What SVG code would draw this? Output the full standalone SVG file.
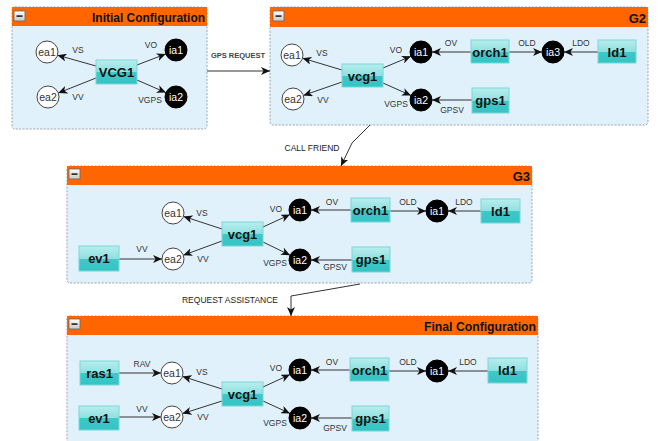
<svg xmlns="http://www.w3.org/2000/svg" width="668" height="441" viewBox="0 0 668 441">
<defs>
<linearGradient id="nodeGrad" x1="0" y1="0" x2="0" y2="1">
<stop offset="0" stop-color="#b8eeee"/>
<stop offset="0.5" stop-color="#8fe0e0"/>
<stop offset="0.52" stop-color="#3ec9c9"/>
<stop offset="1" stop-color="#36c3c3"/>
</linearGradient>
<linearGradient id="btnGrad" x1="0" y1="0" x2="0" y2="1">
<stop offset="0" stop-color="#ffffff"/>
<stop offset="1" stop-color="#c8c8c8"/>
</linearGradient>
<marker id="arr" viewBox="0 0 9 8" refX="9" refY="4" markerWidth="9" markerHeight="8" markerUnits="userSpaceOnUse" orient="auto">
<path d="M0,0 L9,4 L0,8 L2.5,4 z" fill="#111"/>
</marker>
</defs>
<style>
.panel{fill:#e1f1fc;stroke:#9aa3ad;stroke-width:1;stroke-dasharray:2,1.5}
.hdr{fill:#ff6600}
.title{font-family:"Liberation Sans",Arial,sans-serif;font-weight:bold;font-size:13px;fill:#111;text-anchor:end}
.btn{fill:url(#btnGrad);stroke:#666;stroke-width:0.8}
.node rect{fill:url(#nodeGrad);stroke:#7dd6d6;stroke-width:1}
.node text{font-family:"Liberation Sans",Arial,sans-serif;font-weight:bold;font-size:13px;fill:#111;text-anchor:middle}
.ea circle{fill:#fff;stroke:#444;stroke-width:1}
.ea text{font-family:"Liberation Sans",Arial,sans-serif;font-size:10.5px;fill:#333;text-anchor:middle}
.ia circle{fill:#000;stroke:#000}
.ia text{font-family:"Liberation Sans",Arial,sans-serif;font-size:10.5px;fill:#fff;text-anchor:middle}
.e{stroke:#333;stroke-width:1;fill:none;marker-end:url(#arr)}
.lbl{font-family:"Liberation Sans",Arial,sans-serif;font-size:8.5px;fill:#333;text-anchor:middle}
.big{font-size:8.5px;fill:#222}
</style>

<!-- Panels -->
<g id="panel1">
<rect class="panel" x="12" y="7" width="195" height="122" rx="3"/>
<rect class="hdr" x="12" y="7" width="195" height="19"/>
<rect class="btn" x="14" y="11" width="11" height="10"/>
<rect x="16.5" y="15.3" width="6" height="1.6" fill="#222"/>
<text class="title" x="205" y="22" textLength="113" lengthAdjust="spacingAndGlyphs">Initial Configuration</text>
</g>
<g id="panel2">
<rect class="panel" x="270" y="7" width="378" height="118" rx="3"/>
<rect class="hdr" x="270" y="7" width="378" height="20"/>
<rect class="btn" x="273" y="11" width="11" height="10"/>
<rect x="275.5" y="15.3" width="6" height="1.6" fill="#222"/>
<text class="title" x="646" y="23">G2</text>
</g>
<g id="panel3">
<rect class="panel" x="67" y="166" width="465" height="117" rx="3"/>
<rect class="hdr" x="67" y="166" width="465" height="19"/>
<rect class="btn" x="69" y="169" width="11" height="10"/>
<rect x="71.5" y="173.3" width="6" height="1.6" fill="#222"/>
<text class="title" x="530" y="181">G3</text>
</g>
<g id="panel4">
<rect class="panel" x="67" y="316" width="471" height="135" rx="3"/>
<rect class="hdr" x="67" y="316" width="471" height="19"/>
<rect class="btn" x="69" y="319" width="11" height="10"/>
<rect x="71.5" y="323.3" width="6" height="1.6" fill="#222"/>
<text class="title" x="536" y="331" textLength="112" lengthAdjust="spacingAndGlyphs">Final Configuration</text>
</g>

<!-- Connectors -->
<g id="connectors">
<!-- between panels -->
<path class="e" d="M207,71 L270,71"/>
<text class="lbl" x="238" y="58" style="font-size:7.5px;font-weight:bold;fill:#444">GPS REQUEST</text>
<path class="e" d="M370,125 L352,143 L341,166"/>
<text class="lbl big" x="312" y="151">CALL FRIEND</text>
<path class="e" d="M360,284 L291,296 L291,316"/>
<text class="lbl big" x="230" y="303">REQUEST ASSISTANCE</text>

<!-- panel 1 -->
<path class="e" d="M96,66 L57.5,55.2"/>
<path class="e" d="M96,78 L58.2,93"/>
<path class="e" d="M137,65 L165.7,54"/>
<path class="e" d="M137,80 L165.9,92.6"/>
<text class="lbl" x="78" y="53">VS</text>
<text class="lbl" x="78" y="100">VV</text>
<text class="lbl" x="151" y="48">VO</text>
<text class="lbl" x="150" y="103">VGPS</text>

<!-- panel 2 -->
<path class="e" d="M342,70 L302.5,58.2"/>
<path class="e" d="M342,82 L303.4,95.4"/>
<path class="e" d="M383,68 L410.9,56.3"/>
<path class="e" d="M383,83 L411,95.5"/>
<path class="e" d="M471,52 L432,52"/>
<path class="e" d="M509,52 L542,52"/>
<path class="e" d="M598,52 L564,52"/>
<path class="e" d="M472,100 L432,100"/>
<text class="lbl" x="322" y="56">VS</text>
<text class="lbl" x="323" y="103">VV</text>
<text class="lbl" x="396" y="53">VO</text>
<text class="lbl" x="396" y="107">VGPS</text>
<text class="lbl" x="451" y="46">OV</text>
<text class="lbl" x="452" y="113">GPSV</text>
<text class="lbl" x="527" y="46">OLD</text>
<text class="lbl" x="581" y="46">LDO</text>

<!-- panel 3 -->
<path class="e" d="M222,229 L183.5,216.4"/>
<path class="e" d="M222,241 L183.3,255.2"/>
<path class="e" d="M119,259 L162,259"/>
<path class="e" d="M263,227 L290,214.6"/>
<path class="e" d="M263,242 L290.1,255.2"/>
<path class="e" d="M351,210 L311,210"/>
<path class="e" d="M390,211 L426,211"/>
<path class="e" d="M481,211 L448,211"/>
<path class="e" d="M352,260 L311,260"/>
<text class="lbl" x="202" y="216">VS</text>
<text class="lbl" x="203" y="262">VV</text>
<text class="lbl" x="142" y="252">VV</text>
<text class="lbl" x="276" y="212">VO</text>
<text class="lbl" x="275" y="266">VGPS</text>
<text class="lbl" x="332" y="205">OV</text>
<text class="lbl" x="335" y="270">GPSV</text>
<text class="lbl" x="408" y="205">OLD</text>
<text class="lbl" x="464" y="205">LDO</text>

<!-- panel 4 -->
<path class="e" d="M119,373 L161,373"/>
<path class="e" d="M119,417 L161,417"/>
<path class="e" d="M222,389 L182.5,376.4"/>
<path class="e" d="M222,401 L182.5,413.6"/>
<path class="e" d="M263,387 L290,374.6"/>
<path class="e" d="M263,401 L290,413.4"/>
<path class="e" d="M350,370 L311,370"/>
<path class="e" d="M389,371 L426,371"/>
<path class="e" d="M488,371 L448,371"/>
<path class="e" d="M352,418 L311,418"/>
<text class="lbl" x="142" y="367">RAV</text>
<text class="lbl" x="202" y="375">VS</text>
<text class="lbl" x="142" y="412">VV</text>
<text class="lbl" x="203" y="420">VV</text>
<text class="lbl" x="276" y="371">VO</text>
<text class="lbl" x="275" y="426">VGPS</text>
<text class="lbl" x="332" y="365">OV</text>
<text class="lbl" x="335" y="431">GPSV</text>
<text class="lbl" x="408" y="365">OLD</text>
<text class="lbl" x="468" y="365">LDO</text>
</g>

<!-- Panel 1 nodes -->
<g id="p1-VCG1" class="node"><rect x="96" y="60" width="41" height="24"/><text x="116.5" y="77">VCG1</text></g>
<g id="p1-ea1" class="ea"><circle cx="47" cy="52" r="11"/><text x="47" y="55.5">ea1</text></g>
<g id="p1-ea2" class="ea"><circle cx="48" cy="97" r="11"/><text x="48" y="100.5">ea2</text></g>
<g id="p1-ia1" class="ia"><circle cx="176" cy="50" r="11"/><text x="176" y="53.5">ia1</text></g>
<g id="p1-ia2" class="ia"><circle cx="176" cy="97" r="11"/><text x="176" y="100.5">ia2</text></g>

<!-- Panel 2 nodes -->
<g id="p2-vcg1" class="node"><rect x="342" y="64" width="41" height="23"/><text x="362.5" y="80.5">vcg1</text></g>
<g id="p2-ea1" class="ea"><circle cx="292" cy="55" r="11"/><text x="292" y="58.5">ea1</text></g>
<g id="p2-ea2" class="ea"><circle cx="293" cy="99" r="11"/><text x="293" y="102.5">ea2</text></g>
<g id="p2-ia1" class="ia"><circle cx="421" cy="52" r="11"/><text x="421" y="55.5">ia1</text></g>
<g id="p2-ia2" class="ia"><circle cx="421" cy="100" r="11"/><text x="421" y="103.5">ia2</text></g>
<g id="p2-orch1" class="node"><rect x="471" y="40" width="38" height="23"/><text x="490" y="56.5">orch1</text></g>
<g id="p2-ia3" class="ia"><circle cx="553" cy="52" r="11"/><text x="553" y="55.5">ia3</text></g>
<g id="p2-ld1" class="node"><rect x="598" y="40" width="38" height="23"/><text x="617" y="56.5">ld1</text></g>
<g id="p2-gps1" class="node"><rect x="472" y="88" width="37" height="25"/><text x="490.5" y="105">gps1</text></g>

<!-- Panel 3 nodes -->
<g id="p3-vcg1" class="node"><rect x="222" y="222" width="41" height="24"/><text x="242.5" y="239">vcg1</text></g>
<g id="p3-ea1" class="ea"><circle cx="173" cy="213" r="11"/><text x="173" y="216.5">ea1</text></g>
<g id="p3-ea2" class="ea"><circle cx="173" cy="259" r="11"/><text x="173" y="262.5">ea2</text></g>
<g id="p3-ev1" class="node"><rect x="79" y="246" width="40" height="25"/><text x="99" y="263">ev1</text></g>
<g id="p3-ia1" class="ia"><circle cx="300" cy="210" r="11"/><text x="300" y="213.5">ia1</text></g>
<g id="p3-ia2" class="ia"><circle cx="300" cy="260" r="11"/><text x="300" y="263.5">ia2</text></g>
<g id="p3-orch1" class="node"><rect x="351" y="198" width="39" height="24"/><text x="370.5" y="215">orch1</text></g>
<g id="p3-ia1b" class="ia"><circle cx="437" cy="211" r="11"/><text x="437" y="214.5">ia1</text></g>
<g id="p3-ld1" class="node"><rect x="481" y="199" width="39" height="24"/><text x="500.5" y="216">ld1</text></g>
<g id="p3-gps1" class="node"><rect x="352" y="247" width="38" height="25"/><text x="371" y="264">gps1</text></g>

<!-- Panel 4 nodes -->
<g id="p4-ras1" class="node"><rect x="80" y="361" width="39" height="24"/><text x="99.5" y="378">ras1</text></g>
<g id="p4-ev1" class="node"><rect x="79" y="406" width="40" height="24"/><text x="99" y="423">ev1</text></g>
<g id="p4-ea1" class="ea"><circle cx="172" cy="373" r="11"/><text x="172" y="376.5">ea1</text></g>
<g id="p4-ea2" class="ea"><circle cx="172" cy="417" r="11"/><text x="172" y="420.5">ea2</text></g>
<g id="p4-vcg1" class="node"><rect x="222" y="382" width="41" height="24"/><text x="242.5" y="399">vcg1</text></g>
<g id="p4-ia1" class="ia"><circle cx="300" cy="370" r="11"/><text x="300" y="373.5">ia1</text></g>
<g id="p4-ia2" class="ia"><circle cx="300" cy="418" r="11"/><text x="300" y="421.5">ia2</text></g>
<g id="p4-orch1" class="node"><rect x="350" y="358" width="39" height="23"/><text x="369.5" y="374.5">orch1</text></g>
<g id="p4-ia1b" class="ia"><circle cx="437" cy="371" r="11"/><text x="437" y="374.5">ia1</text></g>
<g id="p4-ld1" class="node"><rect x="488" y="358" width="39" height="25"/><text x="507.5" y="375">ld1</text></g>
<g id="p4-gps1" class="node"><rect x="352" y="406" width="37" height="25"/><text x="370.5" y="423">gps1</text></g>
</svg>
